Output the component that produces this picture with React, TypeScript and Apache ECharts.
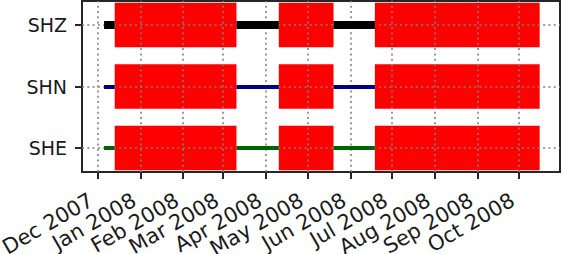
import { useEffect, useRef } from 'react';
import * as echarts from 'echarts';

// Station categories, bottom to top (value 0, 1, 2 on the y axis)
const categories = ['SHE', 'SHN', 'SHZ'];
const lineColors = ['#006400', '#00008b', '#000000'];
const lineWidths = [4, 4, 8];

// Periods where each channel has data (drawn as lines)
const dataSegments = [
  ['2007-12-05T19:00:00Z', '2007-12-13T12:00:00Z'],
  ['2008-03-10T14:00:00Z', '2008-04-10T06:00:00Z'],
  ['2008-05-19T20:00:00Z', '2008-06-18T18:00:00Z'],
];

// Gaps (drawn as red boxes)
const gapSpans = [
  ['2007-12-13T12:00:00Z', '2008-03-10T14:00:00Z'],
  ['2008-04-10T06:00:00Z', '2008-05-19T20:00:00Z'],
  ['2008-06-18T18:00:00Z', '2008-10-16T00:00:00Z'],
];

// Month tick positions
const monthTicks = [
  '2007-12-01T00:00:00Z', '2008-01-01T00:00:00Z', '2008-02-01T00:00:00Z',
  '2008-03-01T00:00:00Z', '2008-04-01T00:00:00Z', '2008-05-01T00:00:00Z',
  '2008-06-01T00:00:00Z', '2008-07-01T00:00:00Z', '2008-08-01T00:00:00Z',
  '2008-09-01T00:00:00Z', '2008-10-01T00:00:00Z',
];
const monthNames = ['Jan', 'Feb', 'Mar', 'Apr', 'May', 'Jun', 'Jul', 'Aug', 'Sep', 'Oct', 'Nov', 'Dec'];

const xRange = ['2007-11-19T20:00:00Z', '2008-10-30T17:00:00Z'];
const yRange = [-0.39, 2.39];
const categoryValues = [0, 1, 2];

const ts = (s: string) => Date.parse(s);

export default function App() {
  const ref = useRef<HTMLDivElement>(null);

  useEffect(() => {
    if (!ref.current) return;
    const chart = echarts.init(ref.current, undefined, { renderer: 'svg' });
    const tickTs = monthTicks.map(ts);
    const xMax = ts(xRange[1]);
    // an empty placeholder label at the axis end keeps ECharts' max-label
    // overlap logic from hiding any real month label
    const labelTs = [...tickTs, xMax];
    const halfH = 0.363;
    const axisColor = '#262626';
    const textColor = '#1a1a1a';

    const gapData: number[][] = [];
    gapSpans.forEach(([s, e]) => {
      categoryValues.forEach((c) => gapData.push([ts(s), ts(e), c]));
    });

    const option: any = {
      animation: false,
      backgroundColor: '#ffffff',
      grid: {
        left: 82,
        top: 1,
        width: 478,
        height: 171,
        containLabel: false,
        outerBoundsMode: 'none',
        show: true,
        borderColor: axisColor,
        borderWidth: 2,
        backgroundColor: 'transparent',
      },
      xAxis: {
        type: 'value',
        min: ts(xRange[0]),
        max: xMax,
        axisLine: { show: true, onZero: false, lineStyle: { color: axisColor, width: 2 } },
        axisTick: {
          show: true,
          length: 7,
          customValues: tickTs,
          lineStyle: { color: axisColor, width: 2 },
        },
        axisLabel: {
          customValues: labelTs,
          rotate: 30,
          margin: 23,
          padding: [0, 7, 0, 0],
          fontSize: 21,
          lineHeight: 16,
          fontFamily: 'DejaVu Sans',
          color: textColor,
          hideOverlap: false,
          showMinLabel: true,
          showMaxLabel: false,
          formatter: (v: number) => {
            if (v >= xMax) return '';
            const d = new Date(v);
            return monthNames[d.getUTCMonth()] + ' ' + d.getUTCFullYear();
          },
        },
        splitLine: { show: false },
      },
      yAxis: {
        type: 'value',
        min: yRange[0],
        max: yRange[1],
        axisLine: { show: true, onZero: false, lineStyle: { color: axisColor, width: 2 } },
        axisTick: {
          show: true,
          length: 7,
          customValues: categoryValues,
          lineStyle: { color: axisColor, width: 2 },
        },
        axisLabel: {
          customValues: categoryValues,
          margin: 15,
          fontSize: 19,
          fontFamily: 'DejaVu Sans',
          color: textColor,
          showMinLabel: true,
          showMaxLabel: true,
          formatter: (v: number) => categories[Math.round(v)] ?? '',
        },
        splitLine: { show: false },
      },
      series: [
        {
          type: 'custom',
          z: 1,
          silent: true,
          encode: { x: [0, 1], y: 2 },
          data: gapData,
          renderItem: (_params: any, api: any) => {
            const s = api.value(0);
            const e = api.value(1);
            const c = api.value(2);
            const p0 = api.coord([s, c + halfH]);
            const p1 = api.coord([e, c - halfH]);
            return {
              type: 'rect',
              shape: { x: p0[0], y: p0[1], width: p1[0] - p0[0], height: p1[1] - p0[1] },
              style: { fill: '#ff0000' },
            };
          },
          markLine: {
            silent: true,
            z: 5,
            symbol: 'none',
            animation: false,
            label: { show: false },
            emphasis: { disabled: true },
            lineStyle: { color: '#808080', width: 1.6, type: [2, 3.3], cap: 'butt' },
            data: [
              ...tickTs.map((t) => ({ xAxis: t })),
              ...categoryValues.map((v) => ({ yAxis: v })),
            ],
          },
        },
        ...categories.map((_c, i) => ({
          type: 'lines',
          coordinateSystem: 'cartesian2d',
          z: 10,
          silent: true,
          lineStyle: { color: lineColors[i], width: lineWidths[i], opacity: 1, curveness: 0, cap: 'butt' },
          data: dataSegments.map(([s, e]) => ({ coords: [[ts(s), i], [ts(e), i]] })),
        })),
      ],
    };

    chart.setOption(option);
    return () => chart.dispose();
  }, []);

  return (
    <div
      ref={ref}
      style={{ position: 'absolute', left: 0, top: 0, width: 562, height: 254 }}
    />
  );
}
